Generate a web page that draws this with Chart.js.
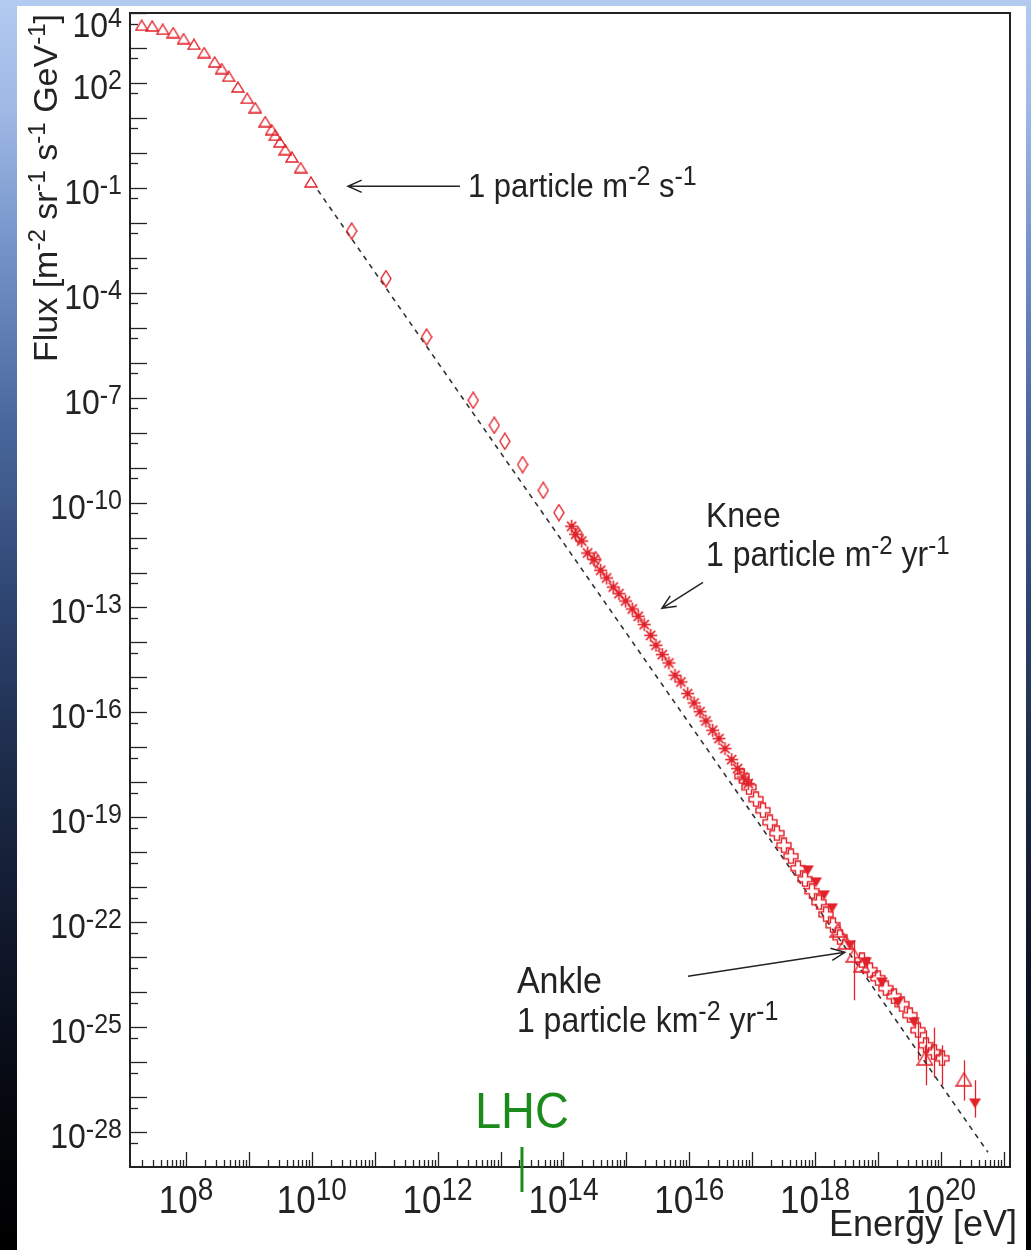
<!DOCTYPE html>
<html>
<head>
<meta charset="utf-8">
<script src="https://cdn.jsdelivr.net/npm/chart.js@4.4.1/dist/chart.umd.min.js"></script>
<style>
  body {
    margin: 0;
    width: 1031px;
    height: 1250px;
    overflow: hidden;
    background: linear-gradient(to bottom, #b3cbf0 0px, #9fb9e5 110px, #7090c6 260px, #4a689d 420px,
      #2f4774 590px, #1d2c4a 760px, #0f1628 950px, #05070d 1120px, #000 1250px);
  }
  #panel { position: absolute; left: 17px; top: 6px; width: 1009px; height: 1244px; background: #fff; }
  #flux_chart { position: absolute; left: 0; top: 0; }
</style>
</head>
<body>
<div id="panel"></div>
<canvas id="flux_chart" width="1031" height="1250"></canvas>
<script>
// energies in eV, fluxes in m^-2 sr^-1 s^-1 GeV^-1
const lowEnergy = [1.98e7, 2.91e7, 4.27e7, 6.28e7, 9.18e7, 1.34e8, 1.95e8, 2.86e8, 3.69e8, 4.78e8, 6.70e8,
  9.42e8, 1.26e9, 1.82e9, 2.30e9, 2.62e9, 3.12e9, 3.78e9, 4.84e9, 6.65e9, 9.70e9];
const lowFlux = [4.45e3, 4.25e3, 3.42e3, 2.75e3, 1.85e3, 1.27e3, 7.38e2, 3.97e2, 2.57e2, 1.55e2, 76.6,
  36.4, 19.7, 7.85, 4.63, 3.18, 2.05, 1.24, 0.762, 0.379, 0.147];

const directEnergy = [4.30e10, 1.51e11, 6.68e11, 3.68e12, 7.94e12, 1.17e13, 2.24e13, 4.78e13, 8.47e13, 1.72e14, 3.24e14];
const directFlux = [5.83e-3, 2.54e-4, 5.43e-6, 8.41e-8, 1.62e-8, 5.66e-9, 1.22e-9, 2.24e-10, 5.16e-11, 1.16e-11, 2.34e-12];

const showerEnergy = [1.35e14, 1.56e14, 1.95e14, 2.42e14, 3.08e14, 3.90e14, 4.85e14, 6.18e14, 7.62e14, 9.72e14,
  1.24e15, 1.54e15, 1.92e15, 2.43e15, 2.95e15, 3.72e15, 4.74e15, 5.92e15, 7.36e15, 9.42e15,
  1.19e16, 1.48e16, 1.84e16, 2.35e16, 2.96e16, 3.69e16, 4.71e16, 5.86e16, 7.19e16, 8.65e16];
const showerFlux = [2.10e-11, 1.24e-11, 7.96e-12, 3.61e-12, 2.34e-12, 1.16e-12, 6.97e-13, 3.85e-13, 2.49e-13, 1.53e-13,
  9.06e-14, 5.60e-14, 3.24e-14, 1.60e-14, 8.30e-15, 4.50e-15, 2.59e-15, 1.15e-15, 7.40e-16, 3.45e-16,
  1.86e-16, 1.05e-16, 5.68e-17, 3.08e-17, 1.78e-17, 9.23e-18, 4.47e-18, 2.47e-18, 1.42e-18, 9.20e-19];

const crossEnergy = [6.86e16, 8.87e16, 1.15e17, 1.48e17, 1.91e17, 2.47e17, 3.19e17, 4.12e17, 5.33e17, 6.89e17,
  8.89e17, 1.15e18, 1.49e18, 1.92e18, 2.48e18, 5.55e18, 7.43e18, 9.95e18, 1.33e19, 1.79e19,
  2.39e19, 3.21e19, 4.31e19, 5.77e19, 7.73e19, 1.04e20];
const crossFlux = [1.49e-18, 7.21e-19, 3.27e-19, 1.58e-19, 7.19e-20, 3.49e-20, 1.58e-20, 7.67e-21, 3.48e-21, 1.69e-21,
  7.66e-22, 3.71e-22, 1.68e-22, 8.17e-23, 3.70e-23, 8.15e-24, 4.22e-24, 2.49e-24, 1.29e-24, 7.60e-25,
  4.50e-25, 2.18e-25, 8.11e-26, 3.02e-26, 1.91e-26, 1.28e-26];
const crossErrHi = [null, null, null, null, null, null, null, null, null, null, null, null, null, null, null,
  null, null, null, null, null, null, null, 1.57e-25, 8.11e-26, 9.70e-26, 3.02e-26];
const crossErrLo = [null, null, null, null, null, null, null, null, null, null, null, null, null, null, null,
  null, null, null, null, null, null, null, 1.12e-26, 2.17e-27, 3.61e-27, 2.17e-27];

const downEnergy = [7.67e17, 1.03e18, 1.38e18, 1.85e18, 3.57e18, 6.41e18, 1.15e19, 2.07e19, 3.72e19, 3.47e20];
const downFlux = [3.05e-21, 1.38e-21, 5.89e-22, 2.50e-22, 2.19e-23, 7.14e-24, 1.91e-24, 5.13e-25, 1.38e-25, 6.59e-28];
const downErrHi = [null, null, null, null, null, null, null, null, null, 3.03e-27];
const downErrLo = [null, null, null, null, null, null, null, null, null, 2.59e-28];

const upEnergy = [2.30e18, 3.08e18, 4.14e18, 5.55e18, 5.56e19, 2.32e20];
const upFlux = [5.87e-23, 2.67e-23, 1.13e-23, 5.86e-24, 1.28e-26, 3.22e-27];
const upErrHi = [null, null, 3.05e-23, null, 3.02e-26, 1.12e-26];
const upErrLo = [null, null, 5.85e-25, null, 9.66e-27, 7.93e-28];

// E^-2.7 style reference line
const fitEnergy = [1.25e10, 5.57e20];
const fitFlux = [8.51e-2, 2.64e-29];

const xLabelExponents = [8, 10, 12, 14, 16, 18, 20];
const yLabelExponents = [4, 2, -1, -4, -7, -10, -13, -16, -19, -22, -25, -28];
const lhcEnergy = 2.19e13;

const red = 'rgb(226,34,42)';
const ink = '#232323';
const green = '#1b8c1b';
const fontFamily = '"Liberation Sans", Arial, sans-serif';

function zip(xs, ys) {
  return xs.map((x, i) => ({ x: x, y: ys[i] }));
}

function marker(w, h, draw) {
  const c = document.createElement('canvas');
  c.width = w;
  c.height = h;
  const g = c.getContext('2d');
  g.strokeStyle = red;
  g.fillStyle = red;
  g.lineWidth = 1.4;
  draw(g, w, h);
  return c;
}

const openTriangle = marker(14, 12, (g, w, h) => {
  g.beginPath(); g.moveTo(w / 2, 1); g.lineTo(w - 1, h - 1); g.lineTo(1, h - 1); g.closePath(); g.stroke();
});
const bigTriangle = marker(17, 15, (g, w, h) => {
  g.beginPath(); g.moveTo(w / 2, 1); g.lineTo(w - 1, h - 1); g.lineTo(1, h - 1); g.closePath(); g.stroke();
});
const openDiamond = marker(12, 18, (g, w, h) => {
  g.beginPath(); g.moveTo(w / 2, 1); g.lineTo(w - 1, h / 2); g.lineTo(w / 2, h - 1); g.lineTo(1, h / 2); g.closePath(); g.stroke();
});
const asterisk = marker(15, 15, (g) => {
  g.lineWidth = 1.6;
  for (let k = 0; k < 4; k++) {
    const t = k * Math.PI / 4;
    g.beginPath();
    g.moveTo(7.5 - 6.5 * Math.cos(t), 7.5 - 6.5 * Math.sin(t));
    g.lineTo(7.5 + 6.5 * Math.cos(t), 7.5 + 6.5 * Math.sin(t));
    g.stroke();
  }
  g.beginPath(); g.arc(7.5, 7.5, 2.4, 0, 2 * Math.PI); g.fill();
});
const openCross = marker(16, 16, (g) => {
  const a = 5.5, b = 10.5;
  g.beginPath();
  g.moveTo(a, 1); g.lineTo(b, 1); g.lineTo(b, a); g.lineTo(15, a); g.lineTo(15, b); g.lineTo(b, b);
  g.lineTo(b, 15); g.lineTo(a, 15); g.lineTo(a, b); g.lineTo(1, b); g.lineTo(1, a); g.lineTo(a, a);
  g.closePath(); g.stroke();
});
const downTriangle = marker(13, 11, (g, w, h) => {
  g.beginPath(); g.moveTo(0.5, 0.5); g.lineTo(w - 0.5, 0.5); g.lineTo(w / 2, h - 0.5); g.closePath(); g.fill();
});

// text with superscripts; parts = [[text, isSuper], ...]
function drawRich(ctx, parts, x, y, align, base, sup, rise, stretch) {
  let width = 0;
  parts.forEach(([t, s]) => {
    ctx.font = (s ? sup : base) + 'px ' + fontFamily;
    width += ctx.measureText(t).width;
  });
  const x0 = align === 'right' ? x - width : (align === 'center' ? x - width / 2 : x);
  ctx.save();
  ctx.translate(x0, y);
  ctx.scale(1, stretch);
  ctx.textAlign = 'left';
  ctx.textBaseline = 'alphabetic';
  let px = 0;
  parts.forEach(([t, s]) => {
    ctx.font = (s ? sup : base) + 'px ' + fontFamily;
    ctx.fillText(t, px, s ? -rise / stretch : 0);
    px += ctx.measureText(t).width;
  });
  ctx.restore();
}

function arrow(ctx, x1, y1, x2, y2) {
  const ang = Math.atan2(y2 - y1, x2 - x1);
  const len = 15, spread = 0.42;
  ctx.beginPath();
  ctx.moveTo(x1, y1); ctx.lineTo(x2, y2);
  ctx.moveTo(x2 - len * Math.cos(ang - spread), y2 - len * Math.sin(ang - spread));
  ctx.lineTo(x2, y2);
  ctx.lineTo(x2 - len * Math.cos(ang + spread), y2 - len * Math.sin(ang + spread));
  ctx.stroke();
}

const errorBars = {
  id: 'errorBars',
  beforeDatasetsDraw(chart) {
    const ctx = chart.ctx, xs = chart.scales.x, ys = chart.scales.y;
    ctx.save();
    ctx.strokeStyle = red;
    ctx.lineWidth = 1.3;
    chart.data.datasets.forEach((ds) => {
      if (!ds.errHi) return;
      ds.data.forEach((p, i) => {
        if (ds.errHi[i] == null) return;
        const px = Math.round(xs.getPixelForValue(p.x)) + 0.5;
        ctx.beginPath();
        ctx.moveTo(px, ys.getPixelForValue(ds.errHi[i]));
        ctx.lineTo(px, ys.getPixelForValue(ds.errLo[i]));
        ctx.stroke();
      });
    });
    ctx.restore();
  }
};

const frameAndLabels = {
  id: 'frameAndLabels',
  afterDraw(chart) {
    const ctx = chart.ctx, area = chart.chartArea;
    const xs = chart.scales.x, ys = chart.scales.y;
    ctx.save();
    ctx.strokeStyle = ink;
    ctx.fillStyle = ink;

    // frame
    ctx.lineWidth = 2;
    ctx.strokeRect(area.left, area.top, area.right - area.left, area.bottom - area.top);

    // x ticks, pointing into the frame
    ctx.lineWidth = 1.3;
    for (let n = 7; n <= 21; n++) {
      for (let m = 1; m <= 9; m++) {
        const v = m * Math.pow(10, n);
        if (v < xs.min || v > xs.max) continue;
        const px = Math.round(xs.getPixelForValue(v)) + 0.5;
        ctx.beginPath();
        ctx.moveTo(px, area.bottom);
        ctx.lineTo(px, area.bottom - (m === 1 ? 15 : 7));
        ctx.stroke();
      }
    }
    // y ticks: decades and halves
    for (let n = -28; n <= 4; n++) {
      [[1, 17], [0.5, 8]].forEach(([m, len]) => {
        const v = m * Math.pow(10, n);
        if (v < ys.min || v > ys.max) return;
        const py = Math.round(ys.getPixelForValue(v)) + 0.5;
        ctx.beginPath();
        ctx.moveTo(area.left, py);
        ctx.lineTo(area.left + len, py);
        ctx.stroke();
      });
    }

    // tick labels
    xLabelExponents.forEach((e) => {
      const px = xs.getPixelForValue(Math.pow(10, e));
      drawRich(ctx, [['10', false], [String(e), true]], px, area.bottom + 46, 'center', 35, 28, 13, 1.1);
    });
    yLabelExponents.forEach((e) => {
      const py = Math.max(ys.getPixelForValue(Math.pow(10, e)) + 16, area.top + 24);
      drawRich(ctx, [['10', false], [String(e), true]], area.left - 8, py, 'right', 32, 25, 10, 1.1);
    });

    // axis titles
    drawRich(ctx, [['Energy [eV]', false]], 1017, 1236, 'right', 36, 36, 0, 1.0);
    ctx.save();
    ctx.translate(57, 362);
    ctx.rotate(-Math.PI / 2);
    drawRich(ctx, [['Flux [m', false], ['-2', true], [' sr', false], ['-1', true], [' s', false], ['-1', true],
      [' GeV', false], ['-1', true], [']', false]], 0, 0, 'left', 34, 24, 12, 1.0);
    ctx.restore();

    // annotations
    ctx.lineWidth = 1.5;
    arrow(ctx, xs.getPixelForValue(2.26e12), ys.getPixelForValue(0.111),
      xs.getPixelForValue(3.76e10), ys.getPixelForValue(0.111));
    drawRich(ctx, [['1 particle m', false], ['-2', true], [' s', false], ['-1', true]],
      xs.getPixelForValue(3.03e12), ys.getPixelForValue(5.37e-2), 'left', 31, 25, 12, 1.08);

    arrow(ctx, xs.getPixelForValue(1.65e16), ys.getPixelForValue(5.25e-13),
      xs.getPixelForValue(3.67e15), ys.getPixelForValue(9.48e-14));
    const kx = xs.getPixelForValue(1.84e16), ky = ys.getPixelForValue(1.96e-11);
    drawRich(ctx, [['Knee', false]], kx, ky, 'left', 32, 32, 0, 1.08);
    drawRich(ctx, [['1 particle m', false], ['-2', true], [' yr', false], ['-1', true]], kx, ky + 39, 'left', 32, 24, 12, 1.08);

    arrow(ctx, xs.getPixelForValue(9.51e15), ys.getPixelForValue(2.84e-24),
      xs.getPixelForValue(2.97e18), ys.getPixelForValue(1.38e-23));
    const ax = xs.getPixelForValue(1.82e13), ay = ys.getPixelForValue(9.27e-25);
    drawRich(ctx, [['Ankle', false]], ax, ay, 'left', 34, 34, 0, 1.08);
    drawRich(ctx, [['1 particle km', false], ['-2', true], [' yr', false], ['-1', true]], ax, ay + 39, 'left', 32, 25, 12, 1.08);

    // LHC marker
    const lx = xs.getPixelForValue(lhcEnergy);
    ctx.strokeStyle = green;
    ctx.fillStyle = green;
    ctx.lineWidth = 3;
    ctx.beginPath();
    ctx.moveTo(lx, area.bottom - 20);
    ctx.lineTo(lx, area.bottom + 25);
    ctx.stroke();
    drawRich(ctx, [['LHC', false]], lx, area.bottom - 39, 'center', 47, 47, 0, 1.08);
    ctx.restore();
  }
};

const ctx = document.getElementById('flux_chart');
const flux_chart = new Chart(ctx, {
  type: 'scatter',
  data: {
    datasets: [
      { label: 'low energy', data: zip(lowEnergy, lowFlux), pointStyle: openTriangle, pointRadius: 5 },
      { label: 'direct', data: zip(directEnergy, directFlux), pointStyle: openDiamond, pointRadius: 5 },
      { label: 'air shower', data: zip(showerEnergy, showerFlux), pointStyle: asterisk, pointRadius: 5 },
      { label: 'cross', data: zip(crossEnergy, crossFlux), pointStyle: openCross, pointRadius: 5,
        errHi: crossErrHi, errLo: crossErrLo },
      { label: 'down', data: zip(downEnergy, downFlux), pointStyle: downTriangle, pointRadius: 5,
        errHi: downErrHi, errLo: downErrLo },
      { label: 'up', data: zip(upEnergy, upFlux), pointStyle: bigTriangle, pointRadius: 5,
        errHi: upErrHi, errLo: upErrLo },
      { label: 'power law', data: zip(fitEnergy, fitFlux), showLine: true, pointRadius: 0,
        borderColor: '#333', borderWidth: 1.6, borderDash: [5, 5] }
    ]
  },
  options: {
    responsive: false,
    animation: false,
    events: [],
    layout: { padding: { left: 130, top: 13, right: 21, bottom: 83 } },
    plugins: {
      legend: { display: false },
      tooltip: { enabled: false }
    },
    scales: {
      x: { type: 'logarithmic', min: 1.29e7, max: 1.25e21, display: false },
      y: { type: 'logarithmic', min: 1e-29, max: 1e4, display: false }
    }
  },
  plugins: [errorBars, frameAndLabels]
});
</script>
</body>
</html>
